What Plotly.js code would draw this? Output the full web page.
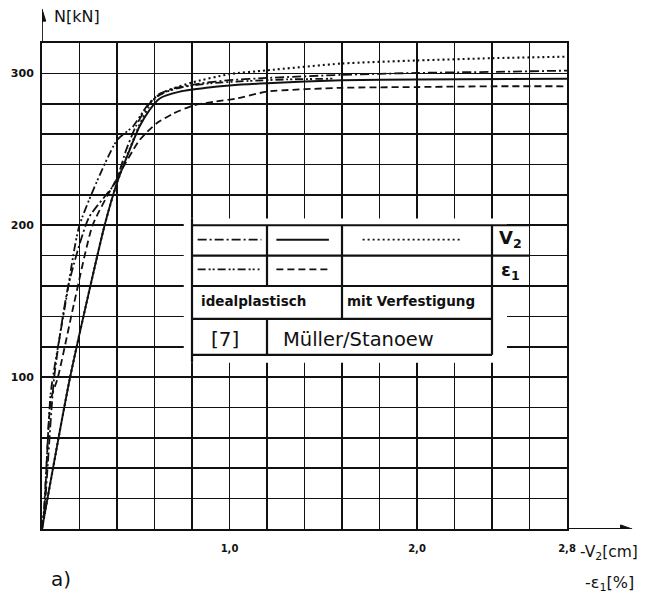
<!DOCTYPE html>
<html>
<head>
<meta charset="utf-8">
<script src="https://cdn.plot.ly/plotly-3.0.1.min.js"></script>
<style>
html,body{margin:0;padding:0;background:#fff;}
#chart{width:645px;height:596px;}
</style>
</head>
<body>
<div id="chart"></div>
<script>
// ---- data ----
// V2 [7] (dash-dot)
const xA = [0, 0.015, 0.065, 0.14, 0.25, 0.39, 0.45, 0.50, 0.56, 0.62, 0.70, 0.85, 1.0, 1.2, 1.6, 2.0, 2.4, 2.8];
const yA = [0, 15, 100, 160, 205, 228, 250, 265, 278, 286, 290, 293.5, 295.5, 297, 299, 300.3, 301, 301.8];
// V2 ideal plastisch (solid)
const xB = [0, 0.15, 0.334, 0.40, 0.467, 0.52, 0.574, 0.628, 0.735, 0.877, 1.0, 1.2, 1.6, 2.0, 2.8];
const yB = [0, 100, 200, 228, 249.5, 265, 276, 283.5, 288, 290.5, 292, 293.5, 295.5, 296, 296.5];
// V2 mit Verfestigung (dotted)
const xC = [0, 0.15, 0.334, 0.40, 0.467, 0.52, 0.57, 0.62, 0.70, 0.80, 1.0, 1.2, 1.6, 2.0, 2.4, 2.8];
const yC = [0, 100, 200, 228, 250, 266, 278, 285.5, 290, 294, 299.5, 302, 306.5, 308.5, 310, 311];
// eps1 [7] (dash-dot-dot)
const xD = [0, 0.01, 0.045, 0.058, 0.13, 0.2, 0.4, 0.485, 0.54, 0.575, 0.645, 0.75, 0.9, 1.1, 1.3, 1.55];
const yD = [0, 12, 88, 100, 152, 200, 256, 265, 275, 281, 287, 291, 293.5, 295, 296, 296.5];
// eps1 ideal plastisch (dashed)
const xE = [0, 0.012, 0.047, 0.085, 0.17, 0.27, 0.387, 0.52, 0.61, 0.70, 0.81, 0.93, 1.04, 1.2, 1.6, 2.0, 2.4, 2.8];
const yE = [0, 12, 85, 100, 148, 200, 228, 256, 267, 273.5, 279, 281.5, 283.5, 288, 290.5, 291, 291.5, 291.5];

// ticks (labelled) and grid step
const xTickVals = [1.0, 2.0, 2.8];
const xTickText = ['1,0', '2,0', '2,8'];
const xGridStep = 0.2;
const yTickVals = [100, 200, 300];
const yTickText = ['100', '200', '300'];
const yGridStep = 20;

// legend table texts
const colHeads = ['idealplastisch', 'mit Verfestigung'];
const refText = ['[7]', 'Müller/Stanoew'];
const rowLabels = ['V<sub>2</sub>', 'ε<sub>1</sub>'];

const FONT = 'DejaVu Sans, Liberation Sans, sans-serif';
const K = '#111';

const dashA = '9px,3px,2px,3px';
const dashD = '8px,3px,2px,2px,2px,3px';
const dashE = '7px,4px';
const dashC = '2px,3px';

function tr(x, y, dash, w) {
  return {x: x, y: y, type: 'scatter', mode: 'lines', hoverinfo: 'skip',
          line: {color: K, width: w, dash: dash, shape: 'spline', smoothing: 0.6}};
}
const data = [
  tr(xE, yE, dashE, 1.8),
  tr(xD, yD, dashD, 1.8),
  tr(xA, yA, dashA, 1.8),
  tr(xC, yC, dashC, 2.1),
  tr(xB, yB, 'solid', 1.9)
];

function ln(x0, y0, x1, y1, w, dash) {
  return {type: 'line', xref: 'x', yref: 'y', x0: x0, y0: y0, x1: x1, y1: y1, layer: 'above',
          line: {color: K, width: w, dash: dash || 'solid'}};
}
const shapes = [
  // white area behind the legend table (interrupts grid)
  {type: 'rect', xref: 'x', yref: 'y', x0: 0.756, x1: 2.48, y0: 109.5, y1: 204.5, layer: 'above',
   fillcolor: '#fff', line: {width: 0}},
  // table borders
  ln(0.8, 200, 2.6, 200, 2.2),
  ln(0.8, 180, 2.6, 180, 2.2),
  ln(0.8, 160, 2.6, 160, 2.2),
  ln(0.8, 138.4, 2.4, 138.4, 2.2),
  ln(0.8, 114.7, 2.4, 114.7, 2.2),
  ln(0.8, 109.5, 0.8, 204.5, 2.2),
  ln(1.2, 160, 1.2, 200, 2.2),
  ln(1.2, 114.7, 1.2, 138.4, 2.2),
  ln(1.6, 138.4, 1.6, 200, 2.2),
  ln(2.4, 114.7, 2.4, 200, 2.2),
  // line samples
  ln(0.83, 190.5, 1.17, 190.5, 1.8, dashA),
  ln(1.25, 190.5, 1.53, 190.5, 1.9),
  ln(1.71, 190.5, 2.23, 190.5, 1.7, dashC),
  ln(0.83, 171, 1.16, 171, 1.8, dashD),
  ln(1.25, 171, 1.53, 171, 1.8, dashE),
  // axis extensions with arrowheads
  {type: 'line', xref: 'x', yref: 'paper', x0: 0, x1: 0, y0: 1, y1: 1.055, line: {color: K, width: 1.8}},
  {type: 'path', xref: 'x', yref: 'paper', path: 'M 0 1.07 L -0.02 1.045 L 0.02 1.045 Z',
   fillcolor: K, line: {color: K, width: 1}},
  {type: 'line', xref: 'paper', yref: 'y', x0: 1, x1: 1.11, y0: 0, y1: 0, line: {color: K, width: 1.8}},
  {type: 'path', xref: 'paper', yref: 'y', path: 'M 1.124 0 L 1.102 2.7 L 1.102 -2.7 Z',
   fillcolor: K, line: {color: K, width: 1}}
];

function txt(x, y, t, size, opts, weight) {
  const f = {family: FONT, size: size, color: K};
  if (weight) f.weight = weight;
  return Object.assign({xref: 'x', yref: 'y', x: x, y: y, text: t, showarrow: false, font: f}, opts || {});
}
const annotations = [
  txt(0.835, 150, colHeads[0], 13.5, {xanchor: 'left', align: 'left'}, 'bold'),
  txt(1.615, 150, colHeads[1], 13.5, {xanchor: 'left', align: 'left'}, 'bold'),
  txt(0.975, 125, refText[0], 20),
  txt(1.275, 125, refText[1], 19.5, {xanchor: 'left', align: 'left'}),
  txt(2.5, 191, rowLabels[0], 18, null, 'bold'),
  txt(2.5, 170, rowLabels[1], 18, null, 'bold'),
  // axis titles
  {xref: 'paper', yref: 'paper', x: 0.019, y: 1.055, xanchor: 'left', yanchor: 'middle',
   text: 'N[kN]', showarrow: false, font: {family: FONT, size: 16, color: K}},
  {xref: 'paper', yref: 'paper', x: 1.021, y: -0.05, xanchor: 'left', yanchor: 'middle',
   text: '-V<sub>2</sub>[cm]', showarrow: false, font: {family: FONT, size: 15.5, color: K}},
  {xref: 'paper', yref: 'paper', x: 1.03, y: -0.112, xanchor: 'left', yanchor: 'middle',
   text: '-ε<sub>1</sub>[%]', showarrow: false, font: {family: FONT, size: 16, color: K}},
  {xref: 'paper', yref: 'paper', x: 0.014, y: -0.103, xanchor: 'left', yanchor: 'middle',
   text: 'a)', showarrow: false, font: {family: FONT, size: 20, color: K}}
];

const layout = {
  width: 645, height: 596,
  margin: {l: 42, r: 78, t: 43, b: 67},
  paper_bgcolor: '#fff', plot_bgcolor: '#fff',
  showlegend: false,
  font: {family: FONT, color: K},
  xaxis: {
    range: [0, 2.8], tickmode: 'array', tickvals: xTickVals, ticktext: xTickText,
    showgrid: true, gridcolor: K, gridwidth: 1.7, zeroline: false,
    minor: {tick0: 0, dtick: xGridStep, showgrid: true, gridcolor: K, gridwidth: 1.7, ticks: ''},
    showline: true, linecolor: K, linewidth: 2, mirror: true,
    ticks: '', ticklabelstandoff: 9,
    tickfont: {family: FONT, size: 10, color: K, weight: 'bold'}
  },
  yaxis: {
    range: [0, 320], tickmode: 'array', tickvals: yTickVals, ticktext: yTickText,
    showgrid: true, gridcolor: K, gridwidth: 1.7, zeroline: false,
    minor: {tick0: 0, dtick: yGridStep, showgrid: true, gridcolor: K, gridwidth: 1.7, ticks: ''},
    showline: true, linecolor: K, linewidth: 2, mirror: true,
    ticks: '', ticklabelstandoff: 4,
    tickfont: {family: FONT, size: 11, color: K, weight: 'bold'}
  },
  shapes: shapes,
  annotations: annotations
};

Plotly.newPlot('chart', data, layout, {staticPlot: true, displayModeBar: false});
</script>
</body>
</html>
